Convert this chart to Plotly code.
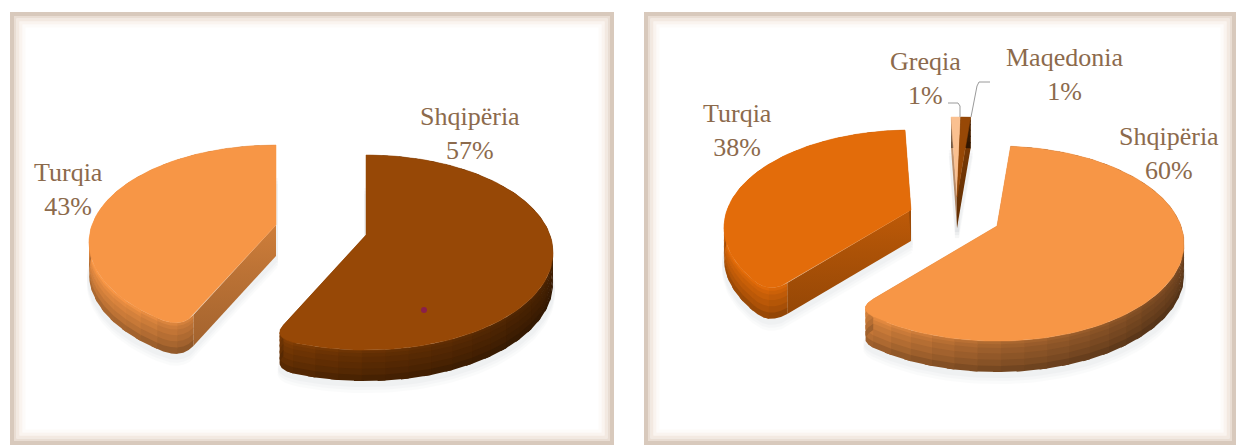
import numpy as np
import plotly.graph_objects as go

# ---- data
left_labels = ["Shqipëria", "Turqia"]
left_values = [57, 43]
right_labels = ["Shqipëria", "Turqia", "Greqia", "Maqedonia"]
right_values = [60, 38, 1, 1]

# ---- style / layout
left_colors = ["#974806", "#f79646"]
right_colors = ["#f79646", "#e36c0a", "#fac090", "#974806"]
left_apex = [(366, 235), (276, 225)]
right_apex = [(997, 226), (911, 210), (957, 197), (957, 197)]
left_start, right_start = 0.0, 5.0
RX, RY, K, DEPTH = 184.0, 94.4, 0.18, 31.0
TEXT = "#8c6a4c"


def scale(hexc, f):
    rgb = [int(hexc[i:i + 2], 16) for i in (1, 3, 5)]
    return "rgb(%d,%d,%d)" % tuple(int(min(255, c * f)) for c in rgb)


def pt(ax, ay, deg, r=1.0):
    t = np.radians(deg)
    X, Y = r * np.sin(t), r * np.cos(t)
    s = 1.0 / (1.0 + K * Y)
    return ax + RX * X * s, ay - RY * Y * s


fig = go.Figure()


def poly(xs, ys, color, lw=0.0, opacity=1.0, grad=None):
    kw = dict(fillcolor=color)
    if grad is not None:
        kw = dict(fillgradient=dict(type="vertical", colorscale=grad))
    fig.add_trace(go.Scatter(x=list(xs), y=list(ys), mode="lines", fill="toself",
                             opacity=opacity, line=dict(color=color, width=lw),
                             hoverinfo="skip", showlegend=False, **kw))


def rim_factor(deg):
    d = deg % 360
    return float(np.interp(d, [0, 90, 135, 180, 225, 270, 360], [.42, .42, .47, .62, .88, .95, .6]))


# fraction of the rim's height, and brightness relative to the rim's own shade
BANDS = [(0, .1, 1.12), (.1, .22, 1.05), (.22, .4, .99), (.4, .6, .93), (.6, .8, .86), (.8, 1, .76)]


def bez(p0, p1, p2, n=6):
    out = []
    for t in np.linspace(0, 1, n):
        out.append(((1 - t) ** 2 * p0[0] + 2 * t * (1 - t) * p1[0] + t * t * p2[0],
                    (1 - t) ** 2 * p0[1] + 2 * t * (1 - t) * p1[1] + t * t * p2[1]))
    return out


def is_tip(a):
    return 150 < (a % 360) < 270


def wedge(apex, a0, a1, color):
    ax, ay = apex
    n = max(2, int((a1 - a0) / 2) + 1)
    arc = list(np.linspace(a0, a1, n))
    pts = [(pt(ax, ay, a), a) for a in arc]
    big = (a1 - a0) > 20
    corner0, corner1 = pt(ax, ay, a0), pt(ax, ay, a1)
    # rounded outer corner where the cut meets the rim at the front
    if big and is_tip(a1):
        keep = [p for p in pts if p[1] <= a1 - 5]
        curve = bez(keep[-1][0], corner1, pt(ax, ay, a1, .9))
        pts = keep + [(c, a1) for c in curve[1:]]
        corner1 = pt(ax, ay, a1, .9)
    if big and is_tip(a0):
        keep = [p for p in pts if p[1] >= a0 + 5]
        curve = bez(pt(ax, ay, a0, .9), corner0, keep[0][0])
        pts = [(c, a0) for c in curve[:-1]] + keep
        corner0 = pt(ax, ay, a0, .9)
    xs = [p[0][0] for p in pts]
    ys = [p[0][1] for p in pts]
    fx, fy = [ax] + xs + [ax], [ay] + ys + [ay]
    # soft shadow
    for off, op in ((10, .03), (7, .035), (4, .045)):
        poly(fx, [v + DEPTH + off for v in fy], "#8a8f9a", lw=4, opacity=op)
    # cut faces
    for c in (corner0, corner1):
        poly([ax, c[0], c[0], ax], [ay, c[1], c[1] + DEPTH, ay + DEPTH], scale(color, .76),
             grad=[[0, scale(color, .66)], [.6, scale(color, .76)], [1, scale(color, .84)]])
    # rim: angular pieces split by height, each overlapping the next
    step = 3
    for i in range(0, len(pts) - 1, step):
        j = min(len(pts) - 1, i + step + 1)
        sx, sy = xs[i:j + 1], ys[i:j + 1]
        f = rim_factor(np.mean([p[1] for p in pts[i:j + 1]]))
        for b0, b1, vf in BANDS:
            poly(sx + sx[::-1],
                 [v + DEPTH * b0 for v in sy] + [v + DEPTH * b1 + (1.2 if b1 < 1 else 0) for v in sy[::-1]],
                 scale(color, f * vf))
    # top face
    poly(fx, fy, color, lw=0.5)


def pie(values, colors, apexes, start):
    a = start
    for v, c, ap in zip(values, colors, apexes):
        b = a + 3.6 * v
        wedge(ap, a, b, c)
        a = b


pie(left_values, left_colors, left_apex, left_start)
pie(right_values, right_colors, right_apex, right_start)

# frames
shapes = []
for x0, y0, x1, y1 in ((8, 10, 616, 447), (642, 10, 1238, 447)):
    for ins, col, w in ((16, "#fdfbf9", 3), (13, "#faf4ef", 3), (10, "#f3e9e1", 3), (7, "#e9ddd3", 3), (4, "#d8c9bc", 4)):
        shapes.append(dict(type="rect", x0=x0 + ins, y0=y0 + ins, x1=x1 - ins, y1=y1 - ins,
                           xref="x", yref="y", line=dict(color=col, width=w), layer="below"))
# leader lines
for path in ("M948,103 L958,103 L960,106 L960,117", "M990,82 L979,82 L977,86 L971,117"):
    shapes.append(dict(type="path", path=path, xref="x", yref="y", line=dict(color="#9a9a9a", width=1)))
shapes.append(dict(type="circle", x0=421, y0=307, x1=427, y1=313, xref="x", yref="y",
                   fillcolor="#8a1f4a", line=dict(width=0)))

label_pos = [
    (left_labels[0], left_values[0], 470, 133),
    (left_labels[1], left_values[1], 68, 189),
    (right_labels[0], right_values[0], 1169, 153),
    (right_labels[1], right_values[1], 737, 130),
    (right_labels[2], right_values[2], 925, 78),
    (right_labels[3], right_values[3], 1064, 74),
]
ann = [dict(x=x, y=y, xref="x", yref="y", text=f"{n}<br>{v}%", showarrow=False,
            font=dict(family="Liberation Serif", size=26, color=TEXT), align="center")
       for n, v, x, y in label_pos]

fig.update_layout(
    width=1236, height=445, margin=dict(l=0, r=0, t=0, b=0),
    paper_bgcolor="white", plot_bgcolor="white", showlegend=False,
    xaxis=dict(range=[0, 1236], visible=False, fixedrange=True),
    yaxis=dict(range=[445, 0], visible=False, fixedrange=True),
    shapes=shapes, annotations=ann,
)
fig.write_html("out.html", config={"displayModeBar": False},
               post_script="document.body.style.margin='0';document.body.style.overflow='hidden';")
